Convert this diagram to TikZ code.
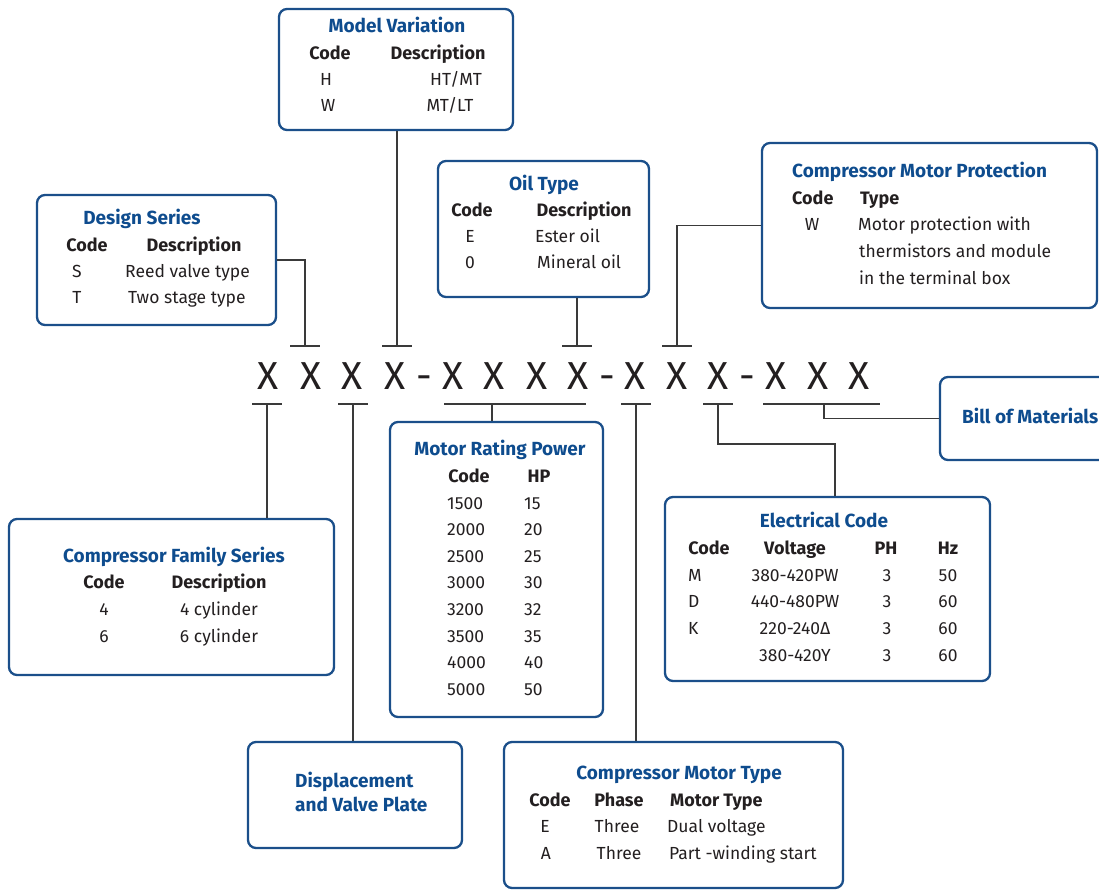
\documentclass[tikz,border=0pt]{standalone}
\usepackage{fontspec}
\setmainfont{Fira Sans}
\definecolor{boxblue}{HTML}{1B4F8A}
\definecolor{titleblue}{HTML}{0E4C8E}
\definecolor{txt}{HTML}{231F20}
\definecolor{linegray}{HTML}{3A3A3A}
\tikzset{
  box/.style={draw=boxblue, line width=2.3pt, rounded corners=8pt, inner sep=0pt},
  ttl/.style={font=\bfseries\fontsize{19}{19}\selectfont, text=titleblue, inner sep=0pt, text height=13pt, text depth=0pt},
  hd/.style={font=\bfseries\fontsize{18}{18}\selectfont, text=txt, inner sep=0pt, text height=12.4pt, text depth=0pt},
  tx/.style={font=\fontsize{17.5}{17.5}\selectfont, text=txt, inner sep=0pt, text height=12pt, text depth=0pt},
  xx/.style={font=\fontsize{39}{39}\selectfont, text=txt, inner sep=0pt, text height=27pt, text depth=0pt},
  ln/.style={draw=linegray, line width=1.3pt},
}
\begin{document}
\begin{tikzpicture}[x=1pt,y=-1pt]
\useasboundingbox (0,0) rectangle (1099,890);
% ---------- code row ----------
\foreach \n/\px in {1/268,2/311,3/352,4/395,5/453,6/494,7/537,8/578,9/635,10/677,11/718,12/776,13/818,14/859}
  \node[xx] (x\n) at (\px,376) {X};
\foreach \n/\px in {1/424,2/607,3/747}
  \node[xx] (d\n) at (\px,376) {-};
% ---------- boxes ----------
\node[box, minimum width=234pt, minimum height=121pt] (mv) at (396,69.5) {};
\node[box, minimum width=239pt, minimum height=130pt] (ds) at (156.5,260) {};
\node[box, minimum width=211pt, minimum height=136pt] (ot) at (543.5,229) {};
\node[box, minimum width=335pt, minimum height=165pt] (mp) at (929.5,225.5) {};
\node[box, minimum width=180pt, minimum height=83pt] (bm) at (1030,418.5) {};
\node[box, minimum width=213pt, minimum height=295pt] (mr) at (496.5,569.5) {};
\node[box, minimum width=325pt, minimum height=156pt] (cf) at (171.5,597) {};
\node[box, minimum width=325pt, minimum height=184pt] (ec) at (827.5,589) {};
\node[box, minimum width=214pt, minimum height=106pt] (dv) at (355,795) {};
\node[box, minimum width=339pt, minimum height=146pt] (mt) at (673.5,815) {};
% ---------- Model Variation ----------
\node[ttl] (mvt) at (397,26) {Model Variation};
\node[hd] (mvh1) at (330,53) {Code};
\node[hd] (mvh2) at (438,53) {Description};
\node[tx] (mva1) at (326,80) {H};
\node[tx] (mva2) at (456,80) {HT/MT};
\node[tx] (mvb1) at (328,106) {W};
\node[tx] (mvb2) at (450,106) {MT/LT};
% ---------- Design Series ----------
\node[ttl] (dst) at (142,218) {Design Series};
\node[hd] (dsh1) at (87,245) {Code};
\node[hd] (dsh2) at (194,245) {Description};
\node[tx] (dsa1) at (77,272) {S};
\node[tx, anchor=west] (dsa2) at (125,272) {Reed valve type};
\node[tx] (dsb1) at (77,298) {T};
\node[tx, anchor=west] (dsb2) at (128,298) {Two stage type};
% ---------- Oil Type ----------
\node[ttl] (ott) at (544,184) {Oil Type};
\node[hd] (oth1) at (472,210) {Code};
\node[hd] (oth2) at (584,210) {Description};
\node[tx] (ota1) at (470,237) {E};
\node[tx, anchor=west] (ota2) at (535,237) {Ester oil};
\node[tx] (otb1) at (470,263) {0};
\node[tx, anchor=west] (otb2) at (537,263) {Mineral oil};
% ---------- Motor Protection ----------
\node[ttl, anchor=west] (mpt) at (792,171) {Compressor Motor Protection};
\node[hd, anchor=west] (mph1) at (792,198) {Code};
\node[hd, anchor=west] (mph2) at (860,198) {Type};
\node[tx] (mpa1) at (812,225) {W};
\node[tx, anchor=west] (mpa2) at (858,225) {Motor protection with};
\node[tx, anchor=west] (mpa3) at (859,252) {thermistors and module};
\node[tx, anchor=west] (mpa4) at (859,278) {in the terminal box};
% ---------- Bill of Materials ----------
\node[ttl, anchor=west] (bmt) at (962,417) {Bill of Materials};
% ---------- Motor Rating Power ----------
\node[ttl] (mrt) at (500,449) {Motor Rating Power};
\node[hd] (mrh1) at (469,476) {Code};
\node[hd] (mrh2) at (539,476) {HP};
\foreach \c/\h/\r in {1500/15/0,2000/20/1,2500/25/2,3000/30/3,3200/32/4,3500/35/5,4000/40/6,5000/50/7}{
  \node[tx, anchor=west] (mrc\r) at (447,503+26.6*\r) {\c};
  \node[tx, anchor=west] (mrp\r) at (524,503+26.6*\r) {\h};
}
% ---------- Compressor Family Series ----------
\node[ttl] (cft) at (174,556) {Compressor Family Series};
\node[hd] (cfh1) at (104,582) {Code};
\node[hd] (cfh2) at (219,582) {Description};
\node[tx] (cfa1) at (104,609) {4};
\node[tx] (cfa2) at (219,609) {4 cylinder};
\node[tx] (cfb1) at (104,636) {6};
\node[tx] (cfb2) at (219,636) {6 cylinder};
% ---------- Electrical Code ----------
\node[ttl] (ect) at (824,521) {Electrical Code};
\node[hd] (ech1) at (709,548) {Code};
\node[hd] (ech2) at (795,548) {Voltage};
\node[hd] (ech3) at (886,548) {PH};
\node[hd] (ech4) at (948,548) {Hz};
\foreach \c/\v/\hz/\r in {M/380-420PW/50/0,D/440-480PW/60/1,K/220-240Δ/60/2,{}/380-420Y/60/3}{
  \node[tx, anchor=west] (ecc\r) at (688,575+26.7*\r) {\c};
  \node[tx] (ecv\r) at (795,575+26.7*\r) {\v};
  \node[tx] (ecp\r) at (887,575+26.7*\r) {3};
  \node[tx] (ecz\r) at (948,575+26.7*\r) {\hz};
}
% ---------- Displacement ----------
\node[ttl, anchor=west] (dv1) at (295,781) {Displacement};
\node[ttl, anchor=west] (dv2) at (295,805) {and Valve Plate};
% ---------- Compressor Motor Type ----------
\node[ttl] (mtt) at (679,773) {Compressor Motor Type};
\node[hd] (mth1) at (550,800) {Code};
\node[hd] (mth2) at (619,800) {Phase};
\node[hd, anchor=west] (mth3) at (670,800) {Motor Type};
\node[tx] (mta1) at (545,826) {E};
\node[tx] (mta2) at (617,826) {Three};
\node[tx, anchor=west] (mta3) at (667,826) {Dual voltage};
\node[tx] (mtb1) at (546,853) {A};
\node[tx] (mtb2) at (619,853) {Three};
\node[tx, anchor=west] (mtb3) at (669,853) {Part -winding start};
% ---------- bars ----------
\coordinate (u1) at (305,346);
\coordinate (u2) at (397,346);
\coordinate (u3) at (577,346);
\coordinate (u4) at (677,346);
\coordinate (l1) at (267,404);
\coordinate (l2) at (353,404);
\coordinate (l3) at (492,404);
\coordinate (l4) at (636,404);
\coordinate (l5) at (718,404);
\coordinate (l6) at (824,404);
\coordinate (ek) at (835,444);
\foreach \b in {u1,u2,u3,u4,l1,l2,l4,l5}
  \draw[ln] ([xshift=-15pt]\b) -- ([xshift=15pt]\b);
\draw[ln] (444,404) -- (586,404);
\draw[ln] (763,404) -- (880,404);
% ---------- connectors ----------
\draw[ln] (ds.east) -| (u1);
\draw[ln] (u2 |- mv.south) -- (u2);
\draw[ln] (u3 |- ot.south) -- (u3);
\draw[ln] (mp.west) -| (u4);
\draw[ln] (l1) -- (l1 |- cf.north);
\draw[ln] (l2) -- (l2 |- dv.north);
\draw[ln] (l3) -- (l3 |- mr.north);
\draw[ln] (l4) -- (l4 |- mt.north);
\draw[ln] (l5) |- (ek) -- (ek |- ec.north);
\draw[ln] (l6) |- (bm.west);
\end{tikzpicture}
\end{document}
